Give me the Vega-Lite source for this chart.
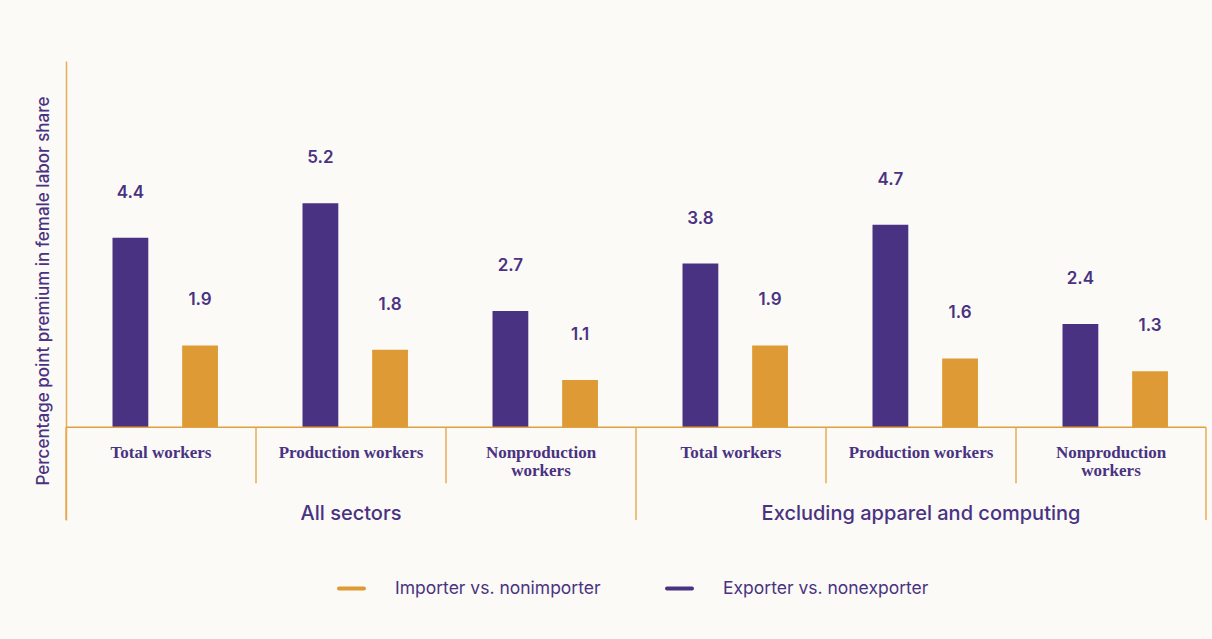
{
  "$schema": "https://vega.github.io/schema/vega-lite/v6.json",
  "width": 1140,
  "height": 459,
  "autosize": {"type": "none"},
  "padding": {"left": 66, "top": 61, "right": 6, "bottom": 119},
  "background": "#fbfaf6",
  "config": {"view": {"stroke": null}, "font": "Inter"},
  "datasets": {
    "bars": [
      {"key": "A-Total", "sector": "All sectors", "category": "Total workers", "series": "Exporter vs. nonexporter", "value": 4.4},
      {"key": "A-Total", "sector": "All sectors", "category": "Total workers", "series": "Importer vs. nonimporter", "value": 1.9},
      {"key": "A-Prod", "sector": "All sectors", "category": "Production workers", "series": "Exporter vs. nonexporter", "value": 5.2},
      {"key": "A-Prod", "sector": "All sectors", "category": "Production workers", "series": "Importer vs. nonimporter", "value": 1.8},
      {"key": "A-Nonprod", "sector": "All sectors", "category": "Nonproduction workers", "series": "Exporter vs. nonexporter", "value": 2.7},
      {"key": "A-Nonprod", "sector": "All sectors", "category": "Nonproduction workers", "series": "Importer vs. nonimporter", "value": 1.1},
      {"key": "X-Total", "sector": "Excluding apparel and computing", "category": "Total workers", "series": "Exporter vs. nonexporter", "value": 3.8},
      {"key": "X-Total", "sector": "Excluding apparel and computing", "category": "Total workers", "series": "Importer vs. nonimporter", "value": 1.9},
      {"key": "X-Prod", "sector": "Excluding apparel and computing", "category": "Production workers", "series": "Exporter vs. nonexporter", "value": 4.7},
      {"key": "X-Prod", "sector": "Excluding apparel and computing", "category": "Production workers", "series": "Importer vs. nonimporter", "value": 1.6},
      {"key": "X-Nonprod", "sector": "Excluding apparel and computing", "category": "Nonproduction workers", "series": "Exporter vs. nonexporter", "value": 2.4},
      {"key": "X-Nonprod", "sector": "Excluding apparel and computing", "category": "Nonproduction workers", "series": "Importer vs. nonimporter", "value": 1.3}
    ],
    "cats": [
      {"key": "A-Total", "sector": "All sectors", "category": "Total workers", "label": "Total workers"},
      {"key": "A-Prod", "sector": "All sectors", "category": "Production workers", "label": "Production workers"},
      {"key": "A-Nonprod", "sector": "All sectors", "category": "Nonproduction workers", "label": "Nonproduction\nworkers"},
      {"key": "X-Total", "sector": "Excluding apparel and computing", "category": "Total workers", "label": "Total workers"},
      {"key": "X-Prod", "sector": "Excluding apparel and computing", "category": "Production workers", "label": "Production workers"},
      {"key": "X-Nonprod", "sector": "Excluding apparel and computing", "category": "Nonproduction workers", "label": "Nonproduction\nworkers"}
    ]
  },
  "layer": [
    {
      "data": {"name": "bars"},
      "mark": {"type": "bar"},
      "encoding": {
        "x": {"field": "key", "type": "nominal", "axis": null,
              "scale": {"type": "band", "domain": ["A-Total", "A-Prod", "A-Nonprod", "X-Total", "X-Prod", "X-Nonprod"], "paddingInner": 0, "paddingOuter": 0}},
        "xOffset": {"field": "series", "type": "nominal",
              "scale": {"domain": ["Exporter vs. nonexporter", "Importer vs. nonimporter"], "paddingInner": 0.486, "paddingOuter": 0.607, "align": 0.55}},
        "y": {"field": "value", "type": "quantitative",
              "scale": {"domain": [-2.15, 8.5], "nice": false, "zero": false},
              "axis": {"title": "Percentage point premium in female labor share", "labels": false, "ticks": false, "grid": false,
                       "domainColor": "#e6ad55", "domainWidth": 1.5, "titleColor": "#4a3282", "titleFontSize": 17,
                       "titleFontWeight": 500, "titleFont": "Inter", "titlePadding": 14}},
        "color": {"field": "series", "type": "nominal",
              "scale": {"domain": ["Importer vs. nonimporter", "Exporter vs. nonexporter"], "range": ["#dd9a35", "#4a3282"]},
              "legend": {"title": null, "orient": "none", "direction": "horizontal", "legendX": 271, "legendY": 513,
                         "symbolType": "stroke", "symbolSize": 625, "symbolStrokeWidth": 4,
                         "labelFontSize": 17.5, "labelColor": "#4a3282", "labelFont": "Inter", "labelFontWeight": 400,
                         "labelLimit": 0, "labelOffset": 29, "columnPadding": 58,
                         "encode": {"symbols": {"update": {"stroke": {"scale": "color", "field": "value"}, "strokeCap": {"value": "round"}}}}}}
      }
    },
    {
      "data": {"name": "bars"},
      "mark": {"type": "text", "dy": -45, "baseline": "middle", "fontSize": 17, "fontWeight": 600, "font": "Inter", "color": "#4a3282"},
      "encoding": {
        "x": {"field": "key", "type": "nominal", "axis": null,
              "scale": {"type": "band", "domain": ["A-Total", "A-Prod", "A-Nonprod", "X-Total", "X-Prod", "X-Nonprod"], "paddingInner": 0, "paddingOuter": 0}},
        "xOffset": {"field": "series", "type": "nominal"},
        "y": {"field": "value", "type": "quantitative"},
        "text": {"field": "value", "type": "quantitative", "format": ".1f"}
      }
    },
    {
      "data": {"values": [{}]},
      "mark": {"type": "rule", "color": "#e0a040", "strokeWidth": 1.5},
      "encoding": {"y": {"datum": 0}}
    },
    {
      "data": {"name": "cats"},
      "transform": [{"filter": "datum.category != 'Total workers'"}],
      "mark": {"type": "rule", "color": "#e6ad55", "strokeWidth": 1.5},
      "encoding": {
        "x": {"field": "key", "type": "nominal", "axis": null, "bandPosition": 0,
              "scale": {"type": "band", "domain": ["A-Total", "A-Prod", "A-Nonprod", "X-Total", "X-Prod", "X-Nonprod"], "paddingInner": 0, "paddingOuter": 0}},
        "y": {"datum": 0},
        "y2": {"datum": -1.3}
      }
    },
    {
      "data": {"name": "cats"},
      "transform": [{"filter": "datum.category == 'Total workers'"}],
      "mark": {"type": "rule", "color": "#e6ad55", "strokeWidth": 1.5},
      "encoding": {
        "x": {"field": "key", "type": "nominal", "axis": null, "bandPosition": 0,
              "scale": {"type": "band", "domain": ["A-Total", "A-Prod", "A-Nonprod", "X-Total", "X-Prod", "X-Nonprod"], "paddingInner": 0, "paddingOuter": 0}},
        "y": {"datum": 0},
        "y2": {"datum": -2.15}
      }
    },
    {
      "data": {"name": "cats"},
      "transform": [{"filter": "datum.key == 'X-Nonprod'"}],
      "mark": {"type": "rule", "color": "#e6ad55", "strokeWidth": 1.5},
      "encoding": {
        "x": {"field": "key", "type": "nominal", "axis": null, "bandPosition": 1,
              "scale": {"type": "band", "domain": ["A-Total", "A-Prod", "A-Nonprod", "X-Total", "X-Prod", "X-Nonprod"], "paddingInner": 0, "paddingOuter": 0}},
        "y": {"datum": 0},
        "y2": {"datum": -2.15}
      }
    },
    {
      "data": {"name": "cats"},
      "mark": {"type": "text", "baseline": "top", "align": "center", "lineBreak": "\n", "lineHeight": 18,
               "font": "Liberation Serif", "fontSize": 17, "fontWeight": "bold", "color": "#4a3282"},
      "encoding": {
        "x": {"field": "key", "type": "nominal", "axis": null,
              "scale": {"type": "band", "domain": ["A-Total", "A-Prod", "A-Nonprod", "X-Total", "X-Prod", "X-Nonprod"], "paddingInner": 0, "paddingOuter": 0}},
        "y": {"datum": -0.41},
        "text": {"field": "label"}
      }
    },
    {
      "data": {"name": "cats"},
      "transform": [{"filter": "datum.category == 'Production workers'"}],
      "mark": {"type": "text", "baseline": "middle", "align": "center", "font": "Inter", "fontSize": 20, "fontWeight": 500, "color": "#4a3282"},
      "encoding": {
        "x": {"field": "key", "type": "nominal", "axis": null,
              "scale": {"type": "band", "domain": ["A-Total", "A-Prod", "A-Nonprod", "X-Total", "X-Prod", "X-Nonprod"], "paddingInner": 0, "paddingOuter": 0}},
        "y": {"datum": -2.02},
        "text": {"field": "sector"}
      }
    }
  ]
}
